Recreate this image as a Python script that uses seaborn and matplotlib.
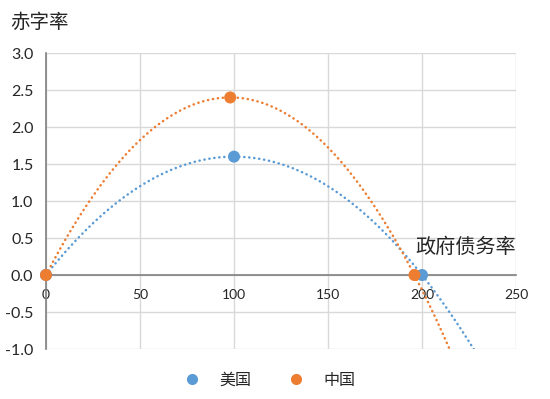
import numpy as np
import pandas as pd
import matplotlib
matplotlib.use('Agg')
import matplotlib.pyplot as plt
import seaborn as sns

# Data
countries = ['美国', '中国']
us_debt = [0, 100, 200]
us_deficit = [0, 1.6, 0]
cn_debt = [0, 98, 196]
cn_deficit = [0, 2.4, 0]
x_ticks = [0, 50, 100, 150, 200, 250]
y_ticks = [-1.0, -0.5, 0.0, 0.5, 1.0, 1.5, 2.0, 2.5, 3.0]

palette = {'美国': '#5B9BD5', '中国': '#ED7D31'}

sns.set_style('white')
plt.rcParams['font.family'] = ['Lato', 'Noto Sans CJK SC', 'DejaVu Sans']

df = pd.DataFrame({
    'country': ['美国'] * len(us_debt) + ['中国'] * len(cn_debt),
    'debt': us_debt + cn_debt,
    'deficit': us_deficit + cn_deficit,
})

fig = plt.figure(figsize=(5.5, 3.99), dpi=100)
ax = fig.add_axes([0.0836, 0.1253, 0.8546, 0.7417])

# Excel-style quadratic trendlines, fitted from the points
xs = np.linspace(0, 250, 400)
for name in countries:
    sub = df[df['country'] == name]
    coef = np.polyfit(sub['debt'], sub['deficit'], 2)
    ys = np.polyval(coef, xs)
    keep = ys >= -1.05
    sns.lineplot(x=xs[keep], y=ys[keep], ax=ax, color=palette[name],
                 linestyle=(0, (0.1, 1.9)), linewidth=1.8, dash_capstyle='round',
                 legend=False, zorder=3, sort=False)

sns.scatterplot(data=df, x='debt', y='deficit', hue='country', hue_order=countries,
                palette=palette, s=75, edgecolor='none', ax=ax, legend=False,
                zorder=4, clip_on=False)

ax.set_xlim(0, 250)
ax.set_ylim(-1.0, 3.0)
ax.set_xticks(x_ticks)
ax.set_yticks(y_ticks)
ax.set_xticklabels([str(v) for v in x_ticks], fontsize=11.5)
ax.set_yticklabels([f'{v:.1f}' for v in y_ticks], fontsize=11.5)
ax.grid(True, color='#d9d9d9', linewidth=1)
ax.set_axisbelow(True)

for side in ['top', 'right']:
    ax.spines[side].set_visible(False)
ax.spines['bottom'].set_position(('data', 0))
ax.spines['bottom'].set_color('#7f7f7f')
ax.spines['left'].set_color('#7f7f7f')
ax.spines['bottom'].set_linewidth(1.2)
ax.spines['left'].set_linewidth(1.2)
ax.tick_params(axis='x', direction='in', length=6, width=1.2, color='#7f7f7f', pad=10)
ax.tick_params(axis='y', direction='in', length=6, width=1.2, color='#7f7f7f', pad=9)

ax.set_xlabel('')
ax.set_ylabel('')
fig.text(0.018, 0.945, '赤字率', fontsize=14, ha='left', va='center')
ax.text(0.785, 0.348, '政府债务率', transform=ax.transAxes, fontsize=14.5,
        ha='left', va='center')

handles = [plt.Line2D([], [], marker='o', linestyle='', markersize=8,
                      color=palette[n], markeredgecolor='none') for n in countries]
fig.legend(handles, countries, loc='center', bbox_to_anchor=(0.49, 0.047), ncol=2,
           frameon=False, fontsize=11.5, columnspacing=2.3, handlelength=1,
           handletextpad=1.2)

fig.savefig('out.png', dpi=100)
